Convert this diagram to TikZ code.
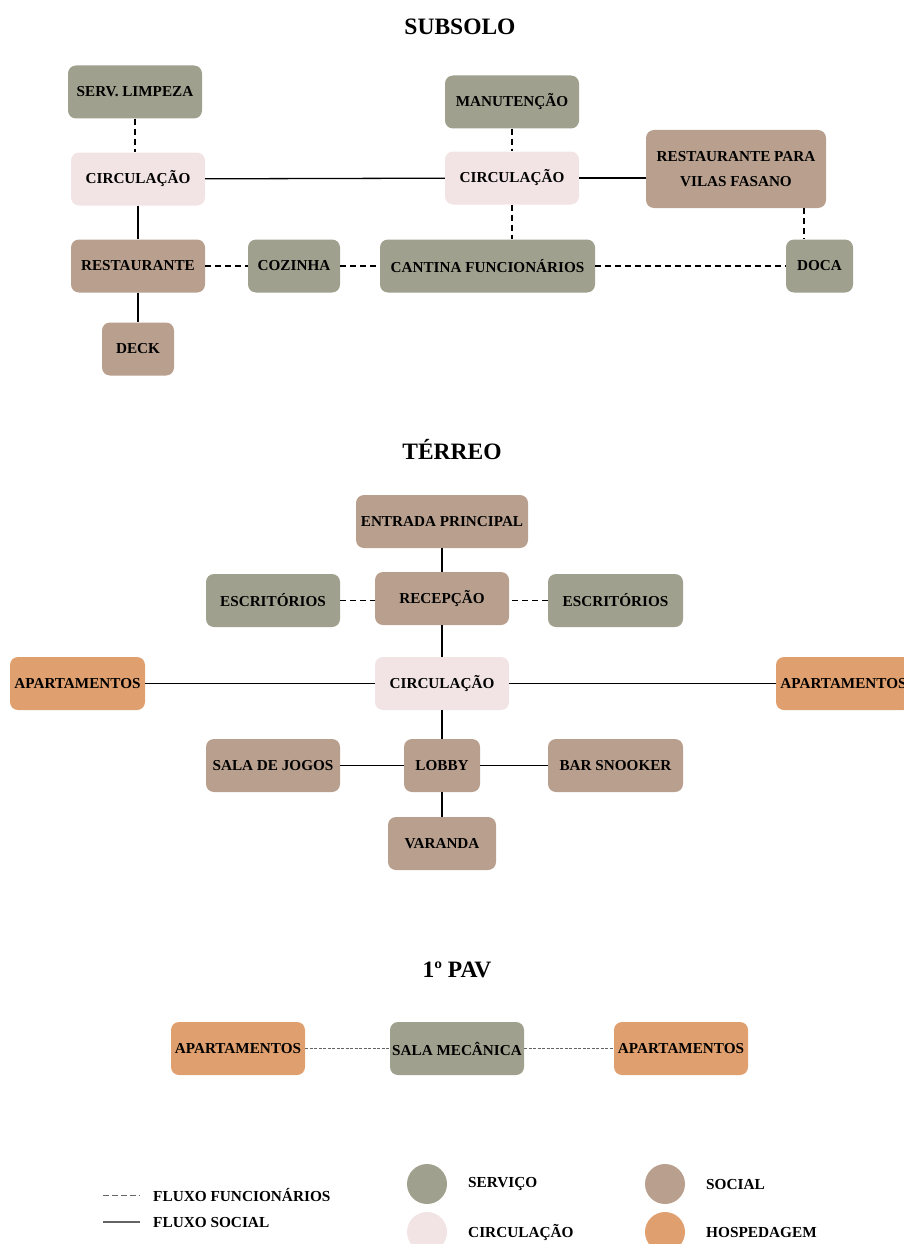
\documentclass[tikz,border=0pt]{standalone}
\usepackage{fontspec}
\setmainfont{Liberation Serif}
\definecolor{servc}{RGB}{160,160,142}
\definecolor{socc}{RGB}{185,160,142}
\definecolor{circc}{RGB}{242,228,229}
\definecolor{hospc}{RGB}{224,159,110}
\definecolor{dgray}{RGB}{100,100,100}
\begin{document}
\begin{tikzpicture}[x=1pt,y=-1pt,
  box/.style={rounded corners=8pt, inner sep=0pt, minimum height=53pt, align=center, font=\bfseries\fontsize{15.2}{25}\selectfont, text=black},
  serv/.style={box, fill=servc},
  soc/.style={box, fill=socc},
  circ/.style={box, fill=circc},
  hosp/.style={box, fill=hospc},
  ttl/.style={font=\bfseries\fontsize{23.5}{26}\selectfont, inner sep=0pt},
  lab/.style={font=\bfseries\fontsize{15.3}{16}\selectfont, inner sep=0pt, anchor=west},
  sol/.style={line width=1.3pt, black},
  dsh/.style={line width=1.2pt, black, dash pattern=on 6pt off 4pt},
  fdsh/.style={line width=1pt, dgray, dash pattern=on 3pt off 1.5pt},
  ldsh/.style={line width=1pt, dgray, dash pattern=on 6pt off 3pt},
  dot/.style={circle, minimum size=40pt, inner sep=0pt}]
\useasboundingbox (0,0) rectangle (904,1244);
\clip (0,0) rectangle (904,1244);
% ---------- SUBSOLO ----------
\node[ttl] (t1) at (460,27) {SUBSOLO};
\node[serv, minimum width=134pt] (limp) at (135,92) {SERV. LIMPEZA};
\node[serv, minimum width=134pt] (man) at (512,102) {MANUTENÇÃO};
\node[circ, minimum width=134pt] (c1) at (138,179) {CIRCULAÇÃO};
\node[circ, minimum width=134pt] (c2) at (512,178) {CIRCULAÇÃO};
\node[soc, minimum width=180pt, minimum height=78pt] (rvf) at (736,169) {RESTAURANTE PARA\\VILAS FASANO};
\node[soc, minimum width=134pt] (rest) at (138,266) {RESTAURANTE};
\node[serv, minimum width=92pt] (coz) at (294,266) {COZINHA};
\node[serv, minimum width=215pt] (cant) at (487.5,266) {CANTINA FUNCIONÁRIOS};
\node[serv, minimum width=67pt] (doca) at (819.5,266) {DOCA};
\node[soc, minimum width=72pt] (deck) at (138,349) {DECK};
\coordinate (dx) at (804,0);
\draw[dsh] (limp) -- (limp |- c1.north);
\draw[sol] (c1) -- (c2);
\draw[sol] (c2.east) -- (c2.east -| rvf.west);
\draw[dsh] (man) -- (c2);
\draw[dsh] (c2.south) -- (c2.south |- cant.north);
\draw[dsh] (rvf.south -| dx) -- (doca.north -| dx);
\draw[sol] (c1) -- (rest);
\draw[sol] (rest) -- (deck);
\draw[dsh] (rest) -- (coz);
\draw[dsh] (coz) -- (cant);
\draw[dsh] (cant) -- (doca);
% ---------- TERREO ----------
\node[ttl] (t2) at (452,450) {TÉRREO};
\node[soc, minimum width=172pt] (ent) at (442,521.5) {ENTRADA PRINCIPAL};
\node[serv, minimum width=134pt] (esc1) at (273,600.5) {ESCRITÓRIOS};
\node[soc, minimum width=134pt] (rec) at (442,598.5) {RECEPÇÃO};
\node[serv, minimum width=135pt] (esc2) at (615.5,600.5) {ESCRITÓRIOS};
\node[hosp, minimum width=135pt] (ap1) at (77.5,683.5) {APARTAMENTOS};
\node[circ, minimum width=134pt] (c3) at (442,683.5) {CIRCULAÇÃO};
\node[hosp, minimum width=135pt] (ap2) at (843.5,683.5) {APARTAMENTOS};
\node[soc, minimum width=134pt] (jog) at (273,765.5) {SALA DE JOGOS};
\node[soc, minimum width=76pt] (lob) at (442,765.5) {LOBBY};
\node[soc, minimum width=135pt] (bar) at (615.5,765.5) {BAR SNOOKER};
\node[soc, minimum width=108pt] (var) at (442,843.5) {VARANDA};
\draw[sol] (ent) -- (rec);
\draw[dsh] (esc1) -- (esc1 -| rec.west);
\draw[dsh] (esc2) -- (esc2 -| rec.east);
\draw[sol] (rec) -- (c3);
\draw[sol] (ap1) -- (c3);
\draw[sol] (c3) -- (ap2);
\draw[sol] (c3) -- (lob);
\draw[sol] (jog) -- (lob);
\draw[sol] (lob) -- (bar);
\draw[sol] (lob) -- (var);
% ---------- 1o PAV ----------
\node[ttl] (t3) at (457,970) {1º PAV};
\node[hosp, minimum width=134pt] (ap3) at (238,1048.5) {APARTAMENTOS};
\node[serv, minimum width=134pt] (mec) at (457,1048.5) {SALA MECÂNICA};
\node[hosp, minimum width=134pt] (ap4) at (681,1048.5) {APARTAMENTOS};
\draw[fdsh] (ap3) -- (mec);
\draw[fdsh] (mec) -- (ap4);
% ---------- LEGEND ----------
\coordinate (l1a) at (103,1195);
\coordinate (l1b) at (140,1195);
\coordinate (l2a) at (103,1222);
\coordinate (l2b) at (140,1222);
\draw[ldsh] (l1a) -- (l1b);
\draw[line width=1.4pt, dgray] (l2a) -- (l2b);
\node[lab] (lf) at (153,1195) {FLUXO FUNCIONÁRIOS};
\node[lab] (ls) at (153,1222) {FLUXO SOCIAL};
\node[dot, fill=servc] (d1) at (427,1184) {};
\node[lab] (d1t) at (468,1184) {SERVIÇO};
\node[dot, fill=circc] (d2) at (427,1232) {};
\node[lab] (d2t) at (468,1232) {CIRCULAÇÃO};
\node[dot, fill=socc] (d3) at (665,1184) {};
\node[lab] (d3t) at (706,1184) {SOCIAL};
\node[dot, fill=hospc] (d4) at (665,1232) {};
\node[lab] (d4t) at (706,1232) {HOSPEDAGEM};
\end{tikzpicture}
\end{document}
